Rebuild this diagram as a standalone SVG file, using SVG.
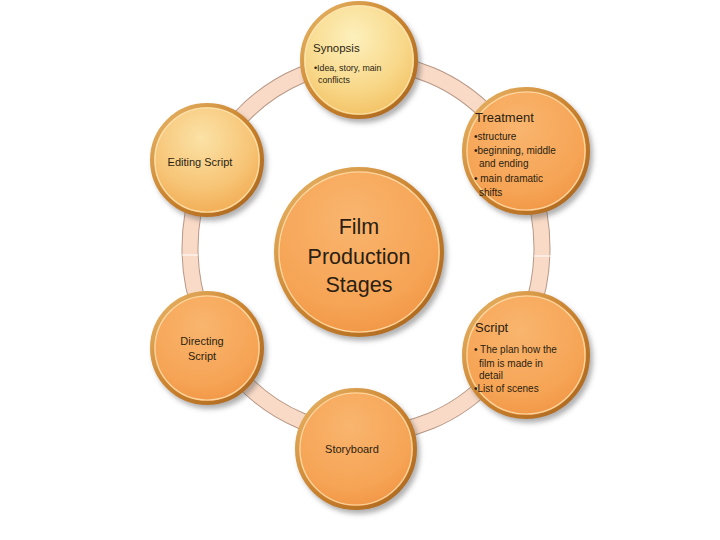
<svg xmlns="http://www.w3.org/2000/svg" width="720" height="540" viewBox="0 0 720 540">
<defs>
  <radialGradient id="gYellow" cx="45%" cy="30%" r="75%">
    <stop offset="0" stop-color="#FDF0BC"/>
    <stop offset="0.6" stop-color="#F8D88A"/>
    <stop offset="1" stop-color="#F2BE5E"/>
  </radialGradient>
  <radialGradient id="gPale" cx="45%" cy="30%" r="75%">
    <stop offset="0" stop-color="#FBE2A6"/>
    <stop offset="0.6" stop-color="#F7C577"/>
    <stop offset="1" stop-color="#F1A84E"/>
  </radialGradient>
  <radialGradient id="gOrange" cx="45%" cy="30%" r="75%">
    <stop offset="0" stop-color="#F9B56E"/>
    <stop offset="0.7" stop-color="#F6A455"/>
    <stop offset="1" stop-color="#F09444"/>
  </radialGradient>
  <linearGradient id="gRim" x1="0" y1="0" x2="1" y2="1">
    <stop offset="0" stop-color="#E9B86A"/>
    <stop offset="0.5" stop-color="#C9822E"/>
    <stop offset="1" stop-color="#A8651F"/>
  </linearGradient>
  <filter id="sh" x="-20%" y="-20%" width="150%" height="150%">
    <feDropShadow dx="3" dy="4" stdDeviation="2.5" flood-color="#555" flood-opacity="0.45"/>
  </filter>
</defs>
<style>
  .rim { stroke: url(#gRim); stroke-width: 4; }
  .inner { fill: none; stroke: #FBE6B8; stroke-width: 1.2; opacity: 0.8; }
  text { font-family: "Liberation Sans", Arial, sans-serif; fill: #2B1E12; }
  .t { font-size: 13px; }
  .b { font-size: 10px; }
  .c { text-anchor: middle; font-size: 11px; }
  .big { text-anchor: middle; font-size: 21.5px; }
</style>
<rect width="720" height="540" fill="#FFFFFF"/>

<g id="connectors">
  <ellipse cx="366" cy="248" rx="176" ry="186" fill="none" stroke="#B79886" stroke-width="17"/>
  <ellipse cx="366" cy="248" rx="176" ry="186" fill="none" stroke="#F9DAC7" stroke-width="15"/>
  <line x1="182" y1="255" x2="198" y2="255" stroke="#FFFFFF" stroke-width="1"/>
  <line x1="534" y1="256" x2="552" y2="256" stroke="#FFFFFF" stroke-width="1"/>
</g>

<g id="center">
  <circle cx="359" cy="252" r="83" fill="url(#gOrange)" class="rim" filter="url(#sh)"/>
  <circle cx="359" cy="252" r="80" class="inner"/>
  <text class="big" x="359" y="234">Film</text>
  <text class="big" x="359" y="264">Production</text>
  <text class="big" x="359" y="292">Stages</text>
</g>

<g id="synopsis">
  <circle cx="359" cy="60" r="57" fill="url(#gYellow)" class="rim" filter="url(#sh)"/>
  <circle cx="359" cy="60" r="54" class="inner"/>
  <text x="313" y="52" font-size="11.5">Synopsis</text>
  <text x="314" y="71" font-size="8.8">•Idea, story, main</text>
  <text x="318" y="83" font-size="8.8">conflicts</text>
</g>

<g id="treatment">
  <circle cx="526" cy="151" r="62" fill="url(#gOrange)" class="rim" filter="url(#sh)"/>
  <circle cx="526" cy="151" r="59" class="inner"/>
  <text class="t" x="475" y="122">Treatment</text>
  <text class="b" x="474" y="140">•structure</text>
  <text class="b" x="474" y="154">•beginning, middle</text>
  <text class="b" x="479" y="167">and ending</text>
  <text class="b" x="474" y="182">• main dramatic</text>
  <text class="b" x="479" y="196">shifts</text>
</g>

<g id="script">
  <circle cx="526" cy="355" r="62" fill="url(#gOrange)" class="rim" filter="url(#sh)"/>
  <circle cx="526" cy="355" r="59" class="inner"/>
  <text class="t" x="475" y="332">Script</text>
  <text class="b" x="474" y="353">• The plan how the</text>
  <text class="b" x="479" y="367">film is made in</text>
  <text class="b" x="479" y="379">detail</text>
  <text class="b" x="474" y="392">•List of scenes</text>
</g>

<g id="storyboard">
  <circle cx="356" cy="449" r="59" fill="url(#gOrange)" class="rim" filter="url(#sh)"/>
  <circle cx="356" cy="449" r="56" class="inner"/>
  <text class="c" x="352" y="453" font-size="12">Storyboard</text>
</g>

<g id="directing">
  <circle cx="207" cy="348" r="55" fill="url(#gOrange)" class="rim" filter="url(#sh)"/>
  <circle cx="207" cy="348" r="52" class="inner"/>
  <text class="c" x="202" y="345">Directing</text>
  <text class="c" x="202" y="360">Script</text>
</g>

<g id="editing">
  <circle cx="207" cy="160" r="55" fill="url(#gPale)" class="rim" filter="url(#sh)"/>
  <circle cx="207" cy="160" r="52" class="inner"/>
  <text class="c" x="200" y="166" font-size="10">Editing Script</text>
</g>
</svg>
